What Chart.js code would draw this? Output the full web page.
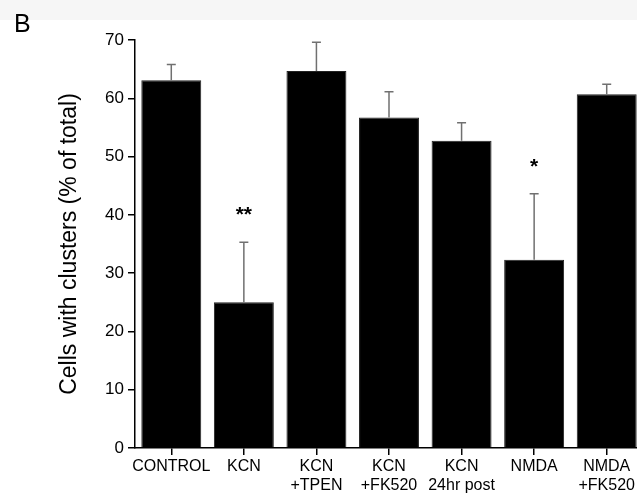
<!DOCTYPE html>
<html>
<head>
<meta charset="utf-8">
<script src="https://cdn.jsdelivr.net/npm/chart.js@4/dist/chart.umd.min.js"></script>
<style>
  html, body { margin: 0; padding: 0; background: #fff; overflow: hidden; }
  #wrap { position: relative; width: 637px; height: 502px; overflow: hidden; }
  #band { position: absolute; left: 0; top: 0; width: 637px; height: 20px; background: #f6f6f6; }
  #panel { position: absolute; left: 14px; top: 9px; font: 25px "Liberation Sans", Arial, sans-serif; color: #000; }
  canvas { position: absolute; left: 0; top: 0; }
</style>
</head>
<body>
<div id="wrap">
  <div id="band"></div>
  <canvas id="chart" width="645" height="502"></canvas>
  <div id="panel">B</div>
</div>
<script>
// Cells with clusters per condition, mean and upper error (SEM)
const groups = ['CONTROL', 'KCN', ['KCN', '+TPEN'], ['KCN', '+FK520'], ['KCN', '24hr post'], 'NMDA', ['NMDA', '+FK520']];
const means = [63.1, 25.0, 64.7, 56.7, 52.7, 32.3, 60.7];
const errors = [2.7, 10.3, 4.9, 4.4, 3.1, 11.3, 1.7];
const significance = ['', '**', '', '', '', '*', ''];
const yTicks = [0, 10, 20, 30, 40, 50, 60, 70];

const font = '"Liberation Sans", Arial, sans-serif';

const errorBars = {
  id: 'errorBars',
  afterDatasetsDraw(chart) {
    const { ctx, scales: { x, y } } = chart;
    ctx.save();
    means.forEach((m, i) => {
      const cx = x.getPixelForValue(i);
      const top = y.getPixelForValue(m);
      const end = y.getPixelForValue(m + errors[i]);
      ctx.strokeStyle = '#707070';
      ctx.lineWidth = 1.5;
      ctx.beginPath();
      ctx.moveTo(cx, top);
      ctx.lineTo(cx, end);
      ctx.moveTo(cx - 4.5, end);
      ctx.lineTo(cx + 4.5, end);
      ctx.stroke();
      if (significance[i]) {
        ctx.fillStyle = '#000';
        ctx.font = 'bold 21px ' + font;
        ctx.textAlign = 'center';
        ctx.textBaseline = 'middle';
        ctx.fillText(significance[i], cx, end - 27);
      }
    });
    ctx.restore();
  }
};

new Chart(document.getElementById('chart'), {
  type: 'bar',
  data: {
    labels: groups,
    datasets: [{
      data: means,
      backgroundColor: '#000',
      borderColor: '#222',
      borderWidth: 1,
      barPercentage: 0.826,
      categoryPercentage: 1
    }]
  },
  options: {
    responsive: false,
    animation: false,
    layout: { padding: { left: 0, right: 2, top: 40, bottom: 0 } },
    plugins: { legend: { display: false }, tooltip: { enabled: false } },
    scales: {
      x: {
        offset: true,
        grid: { offset: false, drawOnChartArea: false, drawTicks: true, tickLength: 7, color: '#000', lineWidth: 1.5 },
        border: { display: true, color: '#000', width: 1.5 },
        ticks: { color: '#000', font: { family: font, size: 16 }, maxRotation: 0, autoSkip: false, padding: 2 },
        afterFit(s) { s.height = 54; }
      },
      y: {
        min: 0,
        max: 70,
        afterBuildTicks(s) { s.ticks = yTicks.map(v => ({ value: v })); },
        grid: { drawOnChartArea: false, drawTicks: true, tickLength: 7, color: '#000', lineWidth: 1.5 },
        border: { display: true, color: '#000', width: 1.5 },
        ticks: { color: '#000', font: { family: font, size: 17 }, padding: 4 },
        title: {
          display: true,
          text: 'Cells with clusters (% of total)',
          color: '#000',
          font: { family: font, size: 23 },
          padding: { top: 56, bottom: 0 }
        },
        afterFit(s) { s.width = 135; }
      }
    }
  },
  plugins: [errorBars]
});
</script>
</body>
</html>
